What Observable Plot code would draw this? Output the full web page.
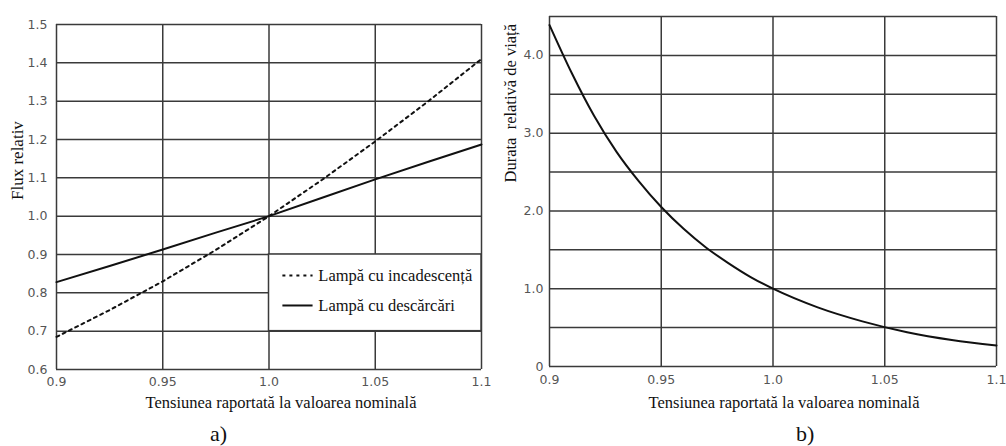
<!DOCTYPE html>
<html>
<head>
<meta charset="utf-8">
<script src="https://cdn.jsdelivr.net/npm/d3@7"></script>
<script src="https://cdn.jsdelivr.net/npm/@observablehq/plot@0.6"></script>
<style>
  html, body { margin: 0; padding: 0; background: #fff; }
  #wrap { position: relative; width: 1006px; height: 446px; overflow: hidden; }
  #left { position: absolute; left: 0; top: 0; }
  #right { position: absolute; left: 500px; top: 0; }
  .tag { position: absolute; font-family: "Liberation Serif", serif; font-size: 22px; color: #111; }
</style>
</head>
<body>
<div id="wrap">
  <div id="left"></div>
  <div id="right"></div>
  <div class="tag" style="left:210px; top:421px;">a)</div>
  <div class="tag" style="left:796px; top:421px;">b)</div>
</div>
<script>
// ---- shared x axis ----
const xTicks = [0.9, 0.95, 1.0, 1.05, 1.1];
const xTickLabels = ["0.9", "0.95", "1.0", "1.05", "1.1"];
const xTitle = "Tensiunea raportată la valoarea nominală";

// ---- chart a) ----
const yTicksA = [0.6, 0.7, 0.8, 0.9, 1.0, 1.1, 1.2, 1.3, 1.4, 1.5];
const yTickLabelsA = ["0.6", "0.7", "0.8", "0.9", "1.0", "1.1", "1.2", "1.3", "1.4", "1.5"];
const yTitleA = "Flux relativ";
const voltA = [0.9, 0.925, 0.95, 0.975, 1.0, 1.025, 1.05, 1.075, 1.1];
const fluxIncand = [0.685, 0.755, 0.83, 0.912, 1.0, 1.095, 1.195, 1.30, 1.41];
const fluxDischarge = [0.828, 0.870, 0.913, 0.957, 1.0, 1.048, 1.096, 1.142, 1.187];
const legendLabels = ["Lampă cu incadescență", "Lampă cu descărcări"];

// ---- chart b) ----
const yGridB = [0, 0.5, 1.0, 1.5, 2.0, 2.5, 3.0, 3.5, 4.0, 4.5];
const yTicksB = [0, 1.0, 2.0, 3.0, 4.0];
const yTickLabelsB = ["0", "1.0", "2.0", "3.0", "4.0"];
const yTitleB = "Durata  relativă de viață";
const voltB = [0.9, 0.91, 0.92, 0.93, 0.94, 0.95, 0.96, 0.97, 0.98, 0.99, 1.0, 1.02, 1.04, 1.06, 1.08, 1.1];
const lifeB = [4.39, 3.77, 3.22, 2.76, 2.38, 2.05, 1.77, 1.53, 1.33, 1.15, 1.0, 0.76, 0.58, 0.44, 0.34, 0.27];

const gridColor = "#3a3a3a";
const tickColor = "#555";

const seriesA = voltA.map((v, i) => ({ v, f: fluxIncand[i] }));
const seriesA2 = voltA.map((v, i) => ({ v, f: fluxDischarge[i] }));
const lifeData = voltB.map((v, i) => ({ v, l: lifeB[i] }));

// legend box spans x 1.0–1.1, y 0.7–0.9 (data units)
const legendBox = [{ x1: xTicks[2], x2: xTicks[4], y1: yTicksA[1], y2: yTicksA[3] }];
const legendRows = [
  { label: legendLabels[0], y: 0.845 },
  { label: legendLabels[1], y: 0.767 }
];

const tickText = { fontFamily: "DejaVu Sans", fontSize: 12.5, fill: tickColor };
const xTickMark = (dy) => Plot.text(xTicks, { x: d => d, text: (d, i) => xTickLabels[i], frameAnchor: "bottom", dy, ...tickText });
const yTickMark = (ticks, labels, dx) => Plot.text(ticks, { y: d => d, text: (d, i) => labels[i], frameAnchor: "left", textAnchor: "end", dx, ...tickText });

const plotA = Plot.plot({
  width: 500, height: 446,
  marginLeft: 56, marginRight: 19, marginTop: 24, marginBottom: 77,
  x: { domain: [0.9, 1.1], axis: null },
  y: { domain: [0.6, 1.5], axis: null },
  style: { fontFamily: "DejaVu Sans", background: "white" },
  marks: [
    Plot.ruleX(xTicks, { stroke: gridColor, strokeWidth: 1.5 }),
    Plot.ruleY(yTicksA, { stroke: gridColor, strokeWidth: 1.5 }),
    Plot.rect(legendBox, { x1: "x1", x2: "x2", y1: "y1", y2: "y2", fill: "white", stroke: gridColor, strokeWidth: 1.5 }),
    Plot.line(seriesA, { x: "v", y: "f", stroke: "#111", strokeWidth: 2, strokeDasharray: "3,4" }),
    Plot.line(seriesA2, { x: "v", y: "f", stroke: "#111", strokeWidth: 2 }),
    Plot.link([legendRows[0]], { x1: 1.0063, x2: 1.0205, y1: "y", y2: "y", stroke: "#111", strokeWidth: 2, strokeDasharray: "3,4" }),
    Plot.link([legendRows[1]], { x1: 1.0063, x2: 1.0205, y1: "y", y2: "y", stroke: "#111", strokeWidth: 2 }),
    Plot.text(legendRows, { x: 1.0232, y: "y", text: "label", textAnchor: "start", fontFamily: "Liberation Serif", fontSize: 16.5, fill: "#111" }),
    xTickMark(16),
    yTickMark(yTicksA, yTickLabelsA, -9),
    Plot.text([xTitle], { frameAnchor: "bottom", dy: 38, dx: 12, fontFamily: "Liberation Serif", fontSize: 16.5, fill: "#111" }),
    Plot.text([yTitleA], { frameAnchor: "left", dx: -39, dy: 3, rotate: -90, fontFamily: "Liberation Serif", fontSize: 17, fill: "#111" })
  ]
});
document.getElementById("left").appendChild(plotA);

const plotB = Plot.plot({
  width: 506, height: 446,
  marginLeft: 49, marginRight: 10, marginTop: 16, marginBottom: 80,
  x: { domain: [0.9, 1.1], axis: null },
  y: { domain: [0, 4.5], axis: null },
  style: { fontFamily: "DejaVu Sans", background: "white" },
  marks: [
    Plot.ruleX(xTicks, { stroke: gridColor, strokeWidth: 1.5 }),
    Plot.ruleY(yGridB, { stroke: gridColor, strokeWidth: 1.5 }),
    Plot.line(lifeData, { x: "v", y: "l", stroke: "#111", strokeWidth: 2, curve: "monotone-x" }),
    xTickMark(17),
    yTickMark(yTicksB, yTickLabelsB, -6),
    Plot.text([xTitle], { frameAnchor: "bottom", dy: 41, dx: 11, fontFamily: "Liberation Serif", fontSize: 16.5, fill: "#111" }),
    Plot.text([yTitleB], { frameAnchor: "left", dx: -39, dy: -9, rotate: -90, fontFamily: "Liberation Serif", fontSize: 16.5, fill: "#111" })
  ]
});
document.getElementById("right").appendChild(plotB);
</script>
</body>
</html>
